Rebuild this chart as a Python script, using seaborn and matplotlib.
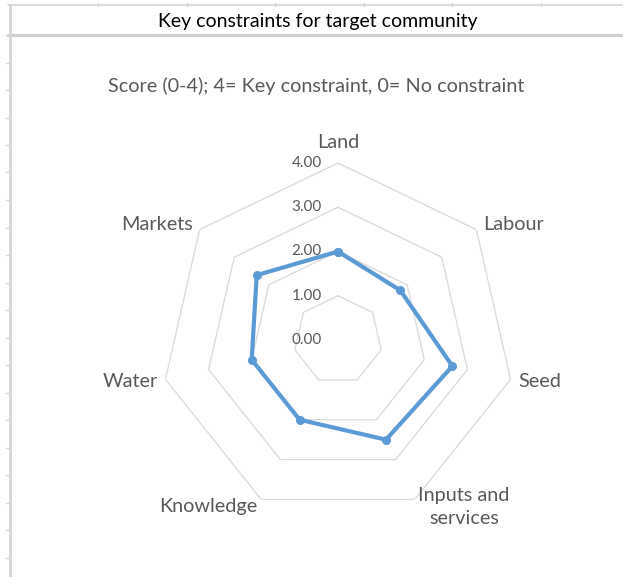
import numpy as np
import pandas as pd
import matplotlib
matplotlib.use("Agg")
import matplotlib.pyplot as plt
from matplotlib.lines import Line2D
from matplotlib.transforms import offset_copy
import seaborn as sns

# ---- data ----
categories = ["Land", "Labour", "Seed", "Inputs and\nservices", "Knowledge", "Water", "Markets"]
scores = [2.0, 1.8, 2.65, 2.5, 2.0, 2.0, 2.35]
ring_levels = [0, 1, 2, 3, 4]
ring_labels = ["0.00", "1.00", "2.00", "3.00", "4.00"]
header_text = "Key constraints for target community"
chart_title = "Score (0-4); 4= Key constraint, 0= No constraint"

sns.set_theme(style="white")
plt.rcParams["font.family"] = ["Lato", "DejaVu Sans"]

W, H = 623, 577
fig = plt.figure(figsize=(W / 100, H / 100), dpi=100)
fig.patch.set_facecolor("white")


def fx(x):
    return x / W


def fy(y):
    return 1 - y / H


# ---- worksheet frame behind the chart ----
grid_grey = "#D6D6D6"
fig.add_artist(Line2D([fx(8), 1], [fy(5), fy(5)], color=grid_grey, lw=1.2))
fig.add_artist(Line2D([fx(8), 1], [fy(35), fy(35)], color="#D0D0D0", lw=2.4))
fig.add_artist(Line2D([fx(10), fx(10)], [fy(5), 0], color=grid_grey, lw=2.0))
for k in range(7):
    x = 98 + 88.6 * k
    fig.add_artist(Line2D([fx(x), fx(x)], [fy(3), fy(6)], color=grid_grey, lw=1.0))
y = 35.0
while y < H:
    fig.add_artist(Line2D([fx(6), fx(10)], [fy(y), fy(y)], color=grid_grey, lw=1.0))
    y += 27.5

fig.text(fx(318), fy(21), header_text, ha="center", va="center",
         fontsize=14, color="black")
fig.text(fx(316), fy(86), chart_title, ha="center", va="center",
         fontsize=14.3, color="#595959")

# ---- radar chart ----
cx, cy, R = 338, 340, 177
ax = fig.add_axes([fx(cx - R), fy(cy + R), 2 * R / W, 2 * R / H], projection="polar")
ax.set_theta_offset(np.pi / 2)
ax.set_theta_direction(-1)
ax.patch.set_alpha(0)
ax.grid(False)
ax.spines["polar"].set_visible(False)

n = len(categories)
theta = np.arange(n) * 2 * np.pi / n
closed_theta = np.append(theta, 2 * np.pi)

for lvl in ring_levels[1:]:
    ax.plot(closed_theta, [lvl] * (n + 1), color="#D9D9D9", lw=0.9, zorder=1)

df = pd.DataFrame({"theta": closed_theta, "score": scores + scores[:1]})
sns.lineplot(data=df, x="theta", y="score", sort=False, estimator=None, ax=ax,
             color="#5B9BD5", lw=3.0, marker="o", markersize=6.5,
             markeredgewidth=0, zorder=3)

ax.set_ylim(0, 4)
ax.set_xticks([])
ax.set_yticks([])
ax.set_xlabel("")
ax.set_ylabel("")

# value labels along the first spoke
for lvl, lab in zip(ring_levels, ring_labels):
    tr = offset_copy(ax.transData, fig=fig, x=-16, y=0, units="dots")
    ax.text(0, lvl, lab, transform=tr, ha="right", va="center",
            fontsize=11, color="#595959")

# category labels just outside the outer ring
for t, lab in zip(theta, categories):
    s, c = np.sin(t), np.cos(t)
    if abs(s) < 0.1:
        ha, d = "center", 21
    else:
        ha, d = ("left" if s > 0 else "right"), 8
    tr = offset_copy(ax.transData, fig=fig, x=d * s, y=d * c, units="dots")
    ax.text(t, 4, lab, transform=tr, ha=ha, va="center", multialignment="center",
            linespacing=1.45, fontsize=14.3, color="#595959")

fig.savefig("out.png", dpi=100, facecolor="white")
